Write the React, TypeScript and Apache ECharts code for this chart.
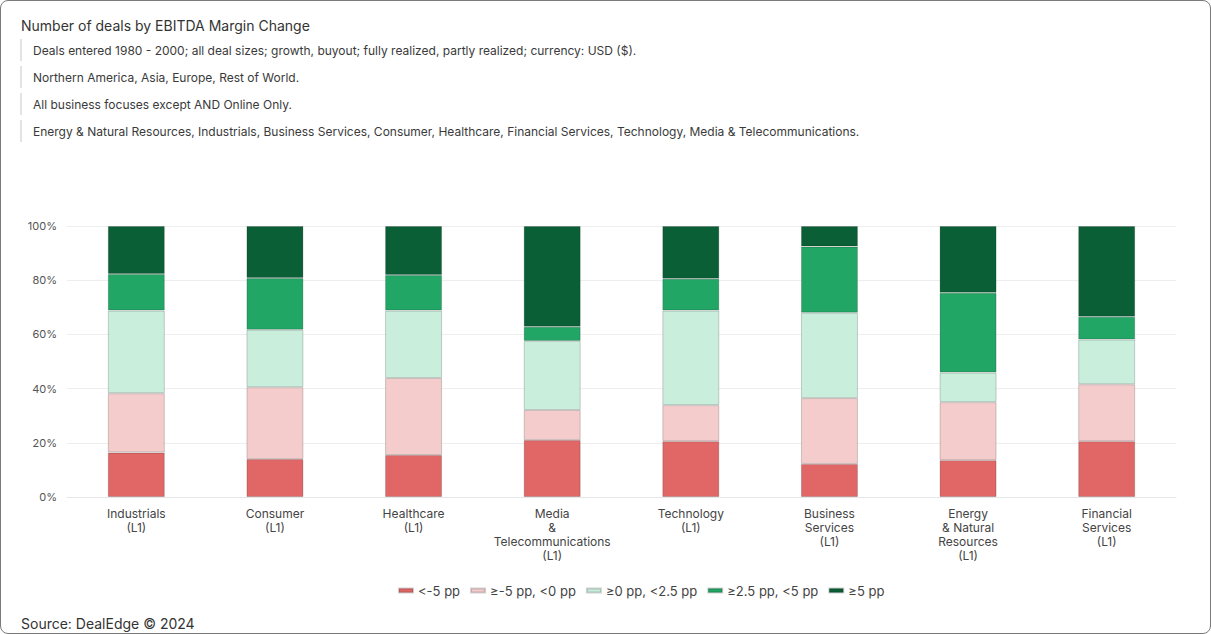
import React, { useEffect, useRef } from "react";
import * as echarts from "echarts";

const categories = [
  "Industrials\n(L1)",
  "Consumer\n(L1)",
  "Healthcare\n(L1)",
  "Media\n&\nTelecommunications\n(L1)",
  "Technology\n(L1)",
  "Business\nServices\n(L1)",
  "Energy\n& Natural\nResources\n(L1)",
  "Financial\nServices\n(L1)",
];

const seriesNames = ["<-5 pp", "≥-5 pp, <0 pp", "≥0 pp, <2.5 pp", "≥2.5 pp, <5 pp", "≥5 pp"];

const lessThanMinus5 = [16.4, 14.0, 15.5, 21.0, 20.6, 12.2, 13.6, 20.6];
const minus5To0 = [21.9, 26.5, 28.4, 11.1, 13.3, 24.3, 21.4, 21.0];
const zeroTo2_5 = [30.5, 21.2, 24.9, 25.5, 34.9, 31.5, 10.9, 16.5];
const from2_5To5 = [13.5, 19.1, 13.1, 5.2, 11.7, 24.4, 29.5, 8.4];
const atLeast5 = [17.7, 19.2, 18.1, 37.2, 19.5, 7.6, 24.6, 33.5];

const seriesValues = [lessThanMinus5, minus5To0, zeroTo2_5, from2_5To5, atLeast5];
const colors = ["#E16767", "#F4CCCC", "#C9EEDC", "#21A665", "#0B5F36"];

const subtitleLines = [
  "Deals entered 1980 - 2000; all deal sizes; growth, buyout; fully realized, partly realized; currency: USD ($).",
  "Northern America, Asia, Europe, Rest of World.",
  "All business focuses except AND Online Only.",
  "Energy & Natural Resources, Industrials, Business Services, Consumer, Healthcare, Financial Services, Technology, Media & Telecommunications.",
];

const FONT = "Inter, Roboto, sans-serif";

export default function App() {
  const ref = useRef<HTMLDivElement>(null);

  useEffect(() => {
    if (!ref.current) return;
    const chart = echarts.init(ref.current, null, { renderer: "svg" });

    const graphics: any[] = [];
    subtitleLines.forEach((t, i) => {
      const cy = 50 + i * 27;
      graphics.push({
        type: "rect",
        left: 20,
        top: cy - 11,
        shape: { width: 2, height: 22 },
        style: { fill: "#E3E3E3" },
      });
      graphics.push({
        type: "text",
        left: 33,
        top: cy - 6,
        style: { text: t, fill: "#3A3A3A", font: `12px ${FONT}` },
      });
    });
    graphics.push({
      type: "text",
      left: 21,
      top: 616,
      style: { text: "Source: DealEdge © 2024", fill: "#333", font: `14px ${FONT}` },
    });

    chart.setOption({
      animation: false,
      textStyle: { fontFamily: FONT },
      title: {
        text: "Number of deals by EBITDA Margin Change",
        left: 21,
        top: 18,
        padding: 0,
        textStyle: { fontSize: 14, fontWeight: "normal", color: "#333", fontFamily: FONT },
      },
      graphic: graphics,
      legend: {
        left: 398,
        top: 584,
        padding: 0,
        itemWidth: 14,
        itemHeight: 4,
        itemGap: 10,
        icon: "rect",
        textStyle: { fontSize: 13, color: "#444", fontFamily: FONT },
        data: seriesNames,
      },
      grid: { left: 67, right: 35, top: 226, bottom: 137, containLabel: false },
      xAxis: {
        type: "category",
        data: categories,
        axisTick: { show: false },
        axisLine: { lineStyle: { color: "#E6E6E6" } },
        axisLabel: {
          color: "#444",
          fontSize: 12,
          lineHeight: 14,
          margin: 9,
          interval: 0,
          fontFamily: FONT,
        },
      },
      yAxis: {
        type: "value",
        min: 0,
        max: 100,
        interval: 20,
        axisLabel: { formatter: "{value}%", color: "#555", fontSize: 11, margin: 10, fontFamily: FONT },
        splitLine: { lineStyle: { color: "#EEEEEE" } },
        axisLine: { show: false },
        axisTick: { show: false },
      },
      series: seriesNames.map((name, i) => ({
        name,
        type: "bar",
        stack: "total",
        barWidth: 57,
        data: seriesValues[i],
        itemStyle: {
          color: colors[i],
          borderColor: "rgba(0,0,0,0.18)",
          borderWidth: 1,
        },
      })),
    });

    return () => chart.dispose();
  }, []);

  return (
    <div style={{ position: "absolute", left: 0, top: 0, width: 1211, height: 634 }}>
      <div ref={ref} style={{ position: "absolute", left: 0, top: 0, width: 1211, height: 634 }} />
      <div
        style={{
          position: "absolute",
          left: 0,
          top: 0,
          width: 1211,
          height: 634,
          boxSizing: "border-box",
          border: "1px solid #7A7A7A",
          borderRadius: 8,
          pointerEvents: "none",
        }}
      />
    </div>
  );
}
